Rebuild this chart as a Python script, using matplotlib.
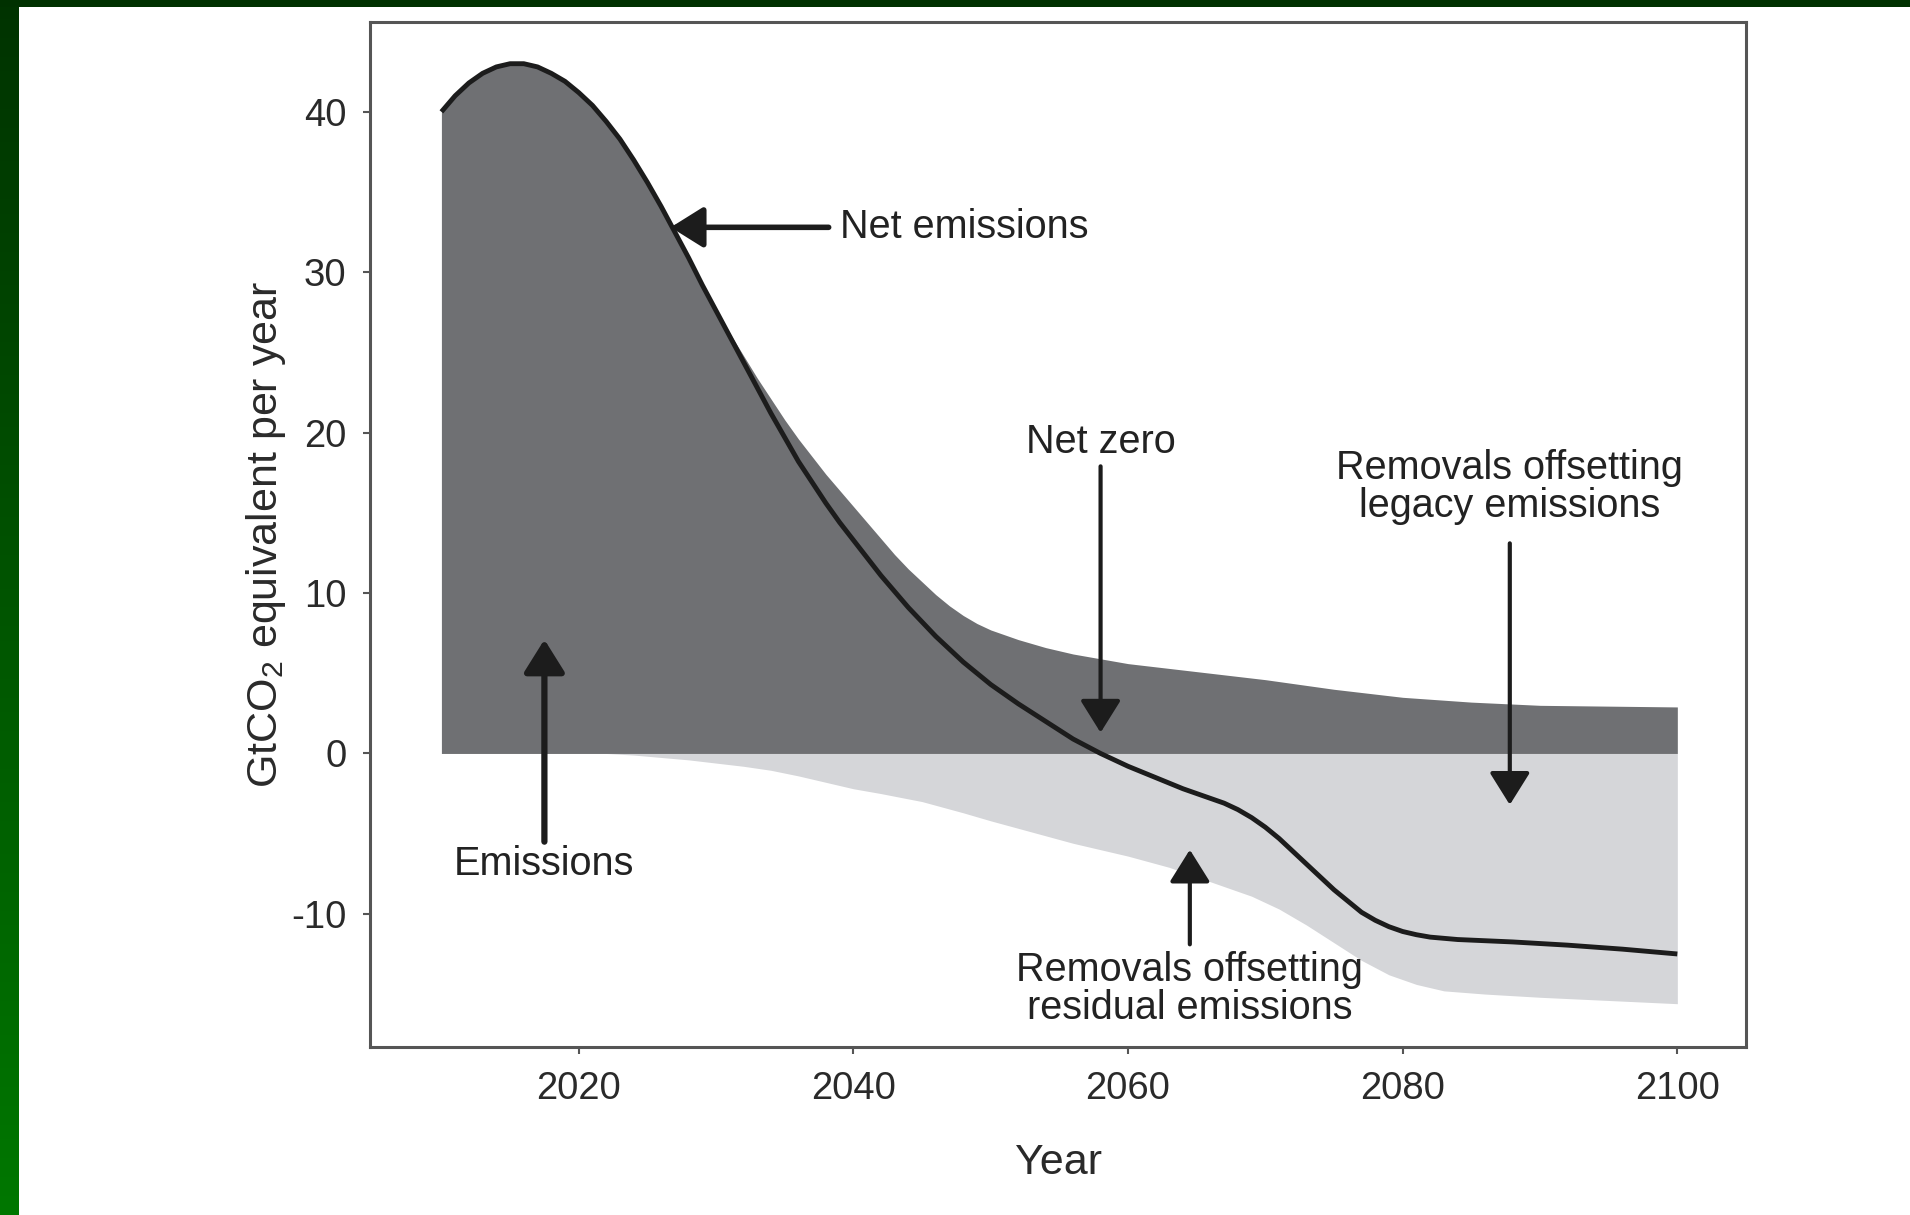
import numpy as np
import matplotlib.pyplot as plt
from matplotlib.patches import Rectangle

plt.rcParams['font.family'] = ['Liberation Sans', 'DejaVu Sans']
plt.rcParams['mathtext.default'] = 'regular'
plt.rcParams['axes.unicode_minus'] = False

# net emissions line (GtCO2e per year)
net_years = [2010, 2011, 2012, 2013, 2014, 2015, 2016, 2017, 2018, 2019, 2020,
             2021, 2022, 2023, 2024, 2025, 2026, 2027, 2028, 2029, 2030, 2031,
             2032, 2033, 2034, 2035, 2036, 2037, 2038, 2039, 2040, 2041, 2042,
             2043, 2044, 2045, 2046, 2047, 2048, 2049, 2050, 2052, 2054, 2056,
             2058, 2060, 2062, 2064, 2066, 2067, 2068, 2069, 2070, 2071, 2072,
             2073, 2074, 2075, 2076, 2077, 2078, 2079, 2080, 2081, 2082, 2084,
             2088, 2092, 2096, 2100]
net_vals = [40.0, 41.0, 41.8, 42.4, 42.8, 43.0, 43.0, 42.8, 42.4, 41.9, 41.2,
            40.4, 39.4, 38.3, 37.0, 35.6, 34.1, 32.5, 30.9, 29.2, 27.6, 26.0,
            24.4, 22.8, 21.2, 19.7, 18.2, 16.9, 15.6, 14.4, 13.3, 12.2, 11.1,
            10.1, 9.1, 8.2, 7.3, 6.5, 5.7, 5.0, 4.3, 3.1, 2.0, 0.9,
            0.0, -0.8, -1.5, -2.2, -2.8, -3.1, -3.5, -4.0, -4.6, -5.3, -6.1,
            -6.9, -7.7, -8.5, -9.2, -9.9, -10.4, -10.8, -11.1, -11.3, -11.45, -11.6,
            -11.75, -11.95, -12.2, -12.5]

# gross emissions (upper edge of the dark band)
emis_years = [2010, 2011, 2012, 2013, 2014, 2015, 2016, 2017, 2018, 2019, 2020,
              2021, 2022, 2023, 2024, 2025, 2026, 2027, 2028, 2029, 2030, 2031,
              2032, 2033, 2034, 2035, 2036, 2037, 2038, 2039, 2040, 2041, 2042,
              2043, 2044, 2045, 2046, 2047, 2048, 2049, 2050, 2052, 2054, 2056,
              2058, 2060, 2065, 2070, 2075, 2080, 2085, 2090, 2095, 2100]
emis_vals = [40.0, 41.0, 41.8, 42.4, 42.8, 43.0, 43.0, 42.8, 42.4, 41.9, 41.2,
             40.4, 39.4, 38.3, 37.0, 35.6, 34.1, 32.5, 30.9, 29.3, 27.7, 26.2,
             24.8, 23.4, 22.1, 20.8, 19.6, 18.5, 17.4, 16.4, 15.4, 14.4, 13.4,
             12.4, 11.5, 10.7, 9.9, 9.2, 8.6, 8.1, 7.7, 7.1, 6.6, 6.2,
             5.9, 5.6, 5.1, 4.6, 4.0, 3.5, 3.2, 3.0, 2.95, 2.9]

# removals (lower edge of the light band)
rem_years = [2010, 2022, 2024, 2026, 2028, 2030, 2032, 2034, 2036, 2038, 2040,
             2042, 2045, 2048, 2050, 2053, 2056, 2060, 2063, 2065, 2067, 2069,
             2071, 2073, 2075, 2077, 2079, 2081, 2083, 2086, 2090, 2095, 2100]
rem_vals = [0.0, 0.0, -0.1, -0.25, -0.4, -0.6, -0.8, -1.05, -1.4, -1.8, -2.2,
            -2.5, -3.0, -3.7, -4.2, -4.9, -5.6, -6.4, -7.1, -7.7, -8.3, -8.9,
            -9.7, -10.7, -11.8, -12.9, -13.8, -14.4, -14.8, -15.0, -15.2, -15.4, -15.6]

x_ticks = [2020, 2040, 2060, 2080, 2100]
y_ticks = [-10, 0, 10, 20, 30, 40]

fig = plt.figure(figsize=(19.1, 12.15), dpi=100)
fig.patch.set_facecolor('white')

# green slide border: gradient strip on the left, dark band on top
bg = fig.add_axes([0, 0, 19 / 1910, 1])
grad = np.linspace(0, 1, 256).reshape(-1, 1)
top_c = np.array([0x00, 0x33, 0x00]) / 255
bot_c = np.array([0x00, 0x77, 0x00]) / 255
img = top_c[None, None, :] * (1 - grad[:, :, None]) + bot_c[None, None, :] * grad[:, :, None]
bg.imshow(img, aspect='auto', extent=[0, 1, 0, 1], origin='upper')
bg.axis('off')
fig.patches.append(Rectangle((0, 1 - 7 / 1215), 1, 7 / 1215, transform=fig.transFigure,
                             facecolor='#003100', edgecolor='none', zorder=10))

ax = fig.add_axes([370 / 1910, 1 - 1047 / 1215, 1376 / 1910, 1025 / 1215])

dark = '#6f7073'
light = '#d5d6d9'
ink = '#1c1c1c'

ax.fill_between(rem_years, rem_vals, 0, color=light, lw=0, zorder=1)
ax.fill_between(emis_years, 0, emis_vals, color=dark, lw=0, zorder=2)
ax.plot(net_years, net_vals, color=ink, lw=3.5, solid_capstyle='butt',
        solid_joinstyle='round', zorder=3)

ax.set_xlim(2004.8, 2105.0)
ax.set_ylim(-18.3, 45.6)
ax.set_xticks(x_ticks)
ax.set_yticks(y_ticks)
ax.tick_params(direction='out', length=5, width=1.5, color='#555555',
               labelsize=27.5, labelcolor='#2a2a2a', pad=12)
for s in ax.spines.values():
    s.set_color('#555555')
    s.set_linewidth(2.2)

ax.set_xlabel('Year', fontsize=31, color='#2a2a2a', labelpad=26)
ax.set_ylabel(r'GtCO$_{2}$ equivalent per year', fontsize=31, color='#2a2a2a', labelpad=2)

txt = dict(fontsize=28.5, color='#222222')

def arrow(x0, y0, x1, y1, lw):
    ax.annotate('', xy=(x1, y1), xytext=(x0, y0),
                arrowprops=dict(arrowstyle='-|>,head_length=0.4,head_width=0.25',
                                lw=lw, color=ink, mutation_scale=50,
                                shrinkA=0, shrinkB=0), zorder=5)

arrow(2038.2, 32.8, 2026.7, 32.8, 4.0)
ax.text(2039.0, 32.8, 'Net emissions', ha='left', va='center', **txt)

ax.text(2058.0, 19.4, 'Net zero', ha='center', va='center', **txt)
arrow(2058.0, 17.9, 2058.0, 1.3, 3.0)

ax.text(2087.8, 16.6, 'Removals offsetting\nlegacy emissions', ha='center',
        va='center', linespacing=1.0, **txt)
arrow(2087.8, 13.1, 2087.8, -3.2, 3.0)

ax.text(2017.5, -6.9, 'Emissions', ha='center', va='center', **txt)
arrow(2017.5, -5.5, 2017.5, 7.1, 4.5)

ax.text(2064.5, -14.7, 'Removals offsetting\nresidual emissions', ha='center',
        va='center', linespacing=1.0, **txt)
arrow(2064.5, -11.9, 2064.5, -6.0, 3.0)

fig.savefig('out.png', dpi=100)
